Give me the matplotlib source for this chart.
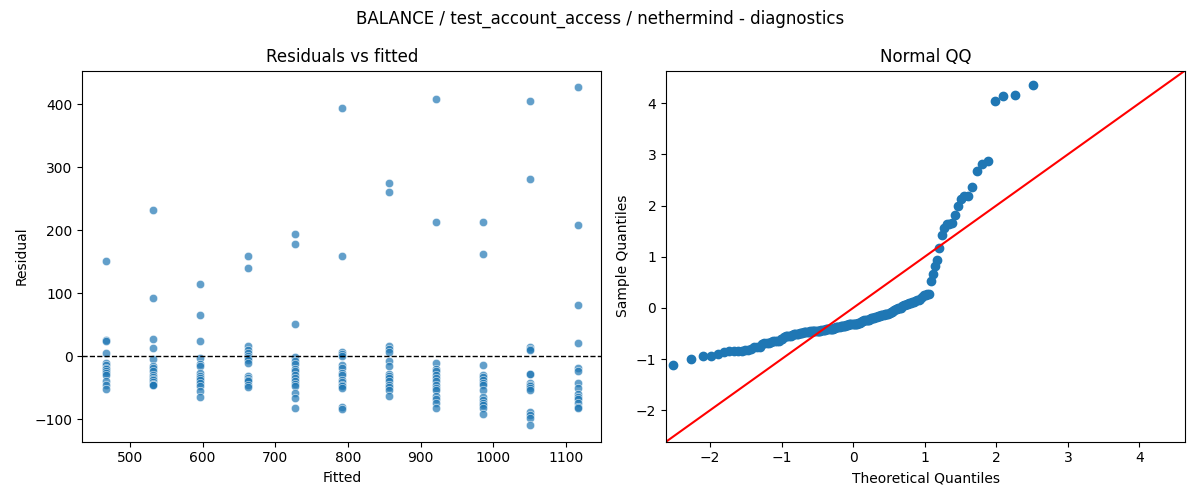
import matplotlib
matplotlib.use("Agg")
import matplotlib.pyplot as plt
import seaborn as sns
import numpy as np
from statistics import NormalDist

# fitted value of each group and the residuals
fitted_levels = [467, 532, 597, 662, 727, 792, 857, 921, 986, 1051, 1116]

resid_groups = [
    [152, 26, 24, 5, -10, -14, -18, -21, -24, -27, -30, -40, -45, -52],
    [232, 92, 27, 13, -5, -15, -18, -23, -30, -33, -36, -38, -41, -44, -46, -46],
    [114, 65, 24, -3, -12, -15, -26, -32, -35, -38, -42, -47, -55, -64],
    [160, 140, 16, 10, 5, 0, -2, -6, -11, -31, -34, -37, -40, -45, -49],
    [194, 178, 51, -1, -8, -12, -20, -24, -30, -35, -40, -44, -47, -59, -67, -83],
    [395, 160, 7, 3, 0, -14, -19, -26, -30, -37, -41, -45, -48, -50, -81, -84],
    [276, 261, 17, 12, 7, -8, -16, -28, -31, -35, -40, -45, -49, -53, -63],
    [408, 214, -11, -20, -24, -30, -35, -40, -45, -50, -53, -63, -68, -74, -82],
    [214, 163, -14, -30, -33, -37, -42, -45, -53, -64, -70, -74, -78, -82, -92],
    [405, 281, 15, 12, 10, -28, -29, -43, -45, -47, -50, -54, -88, -93, -98, -109],
    [427, 208, 81, 21, -19, -24, -43, -50, -60, -65, -68, -75, -80, -83],
]

fitted = []
resid = []
for lev, grp in zip(fitted_levels, resid_groups):
    for r in grp:
        fitted.append(lev)
        resid.append(r)
fitted = np.array(fitted, dtype=float)
resid = np.array(resid, dtype=float)

# QQ: standardized sorted residuals vs normal quantiles i/(n+1)
n = len(resid)
sample_q = np.sort((resid - resid.mean()) / resid.std())
nd = NormalDist()
theo_q = np.array([nd.inv_cdf(i / (n + 1)) for i in range(1, n + 1)])

fig, axs = plt.subplots(1, 2, figsize=(12, 5))
fig.suptitle("BALANCE / test_account_access / nethermind - diagnostics")

ax = axs[0]
sns.scatterplot(x=fitted, y=resid, alpha=0.7, ax=ax)
ax.axhline(0, color="black", linestyle="--", linewidth=1)
ax.set_title("Residuals vs fitted")
ax.set_xlabel("Fitted")
ax.set_ylabel("Residual")

ax = axs[1]
ax.plot(theo_q, sample_q, "o", color="C0", markersize=6)
ax.set_xmargin(0.02)
ax.autoscale_view()
x0, x1 = ax.get_xlim()
y0, y1 = ax.get_ylim()
lo, hi = min(x0, y0), max(x1, y1)
ax.plot([lo, hi], [lo, hi], "r-")
ax.set_xlim(lo, hi)
ax.set_ylim(lo, hi)
ax.set_title("Normal QQ")
ax.set_xlabel("Theoretical Quantiles")
ax.set_ylabel("Sample Quantiles")

plt.tight_layout()
plt.savefig("out.png", dpi=100)
